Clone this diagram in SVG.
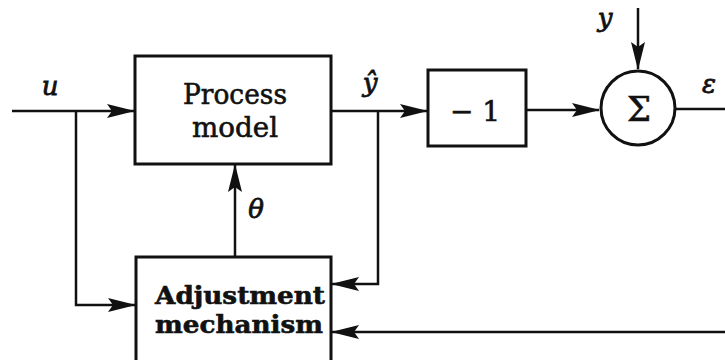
<svg xmlns="http://www.w3.org/2000/svg" width="725" height="360" viewBox="0 0 725 360">
<style>
.box{fill:#fff;stroke:#111;stroke-width:3}
.ln{fill:none;stroke:#111;stroke-width:2.5}
.lbl{font-family:"DejaVu Serif","Liberation Serif",serif;fill:#111;stroke:#111;stroke-width:0.6}
.it{font-family:"DejaVu Serif","Liberation Serif",serif;font-style:italic;fill:#111;stroke:#111;stroke-width:0.8}
</style>
<defs>
<marker id="ah" markerUnits="userSpaceOnUse" markerWidth="32" markerHeight="16" viewBox="0 -8 28 16" refX="27" refY="0" orient="auto">
<path d="M0,-7 L28,0 L0,7 L5,0 Z" fill="#111"/>
</marker>
</defs>
<rect width="725" height="360" fill="#fff"/>
<g id="connectors">
<path class="ln" d="M12,111 H134" marker-end="url(#ah)"/>
<path class="ln" d="M76,111 V305 H135" marker-end="url(#ah)"/>
<path class="ln" d="M331,111 H427" marker-end="url(#ah)"/>
<path class="ln" d="M378,111 V284 H332" marker-end="url(#ah)"/>
<path class="ln" d="M526,110 H599" marker-end="url(#ah)"/>
<path class="ln" d="M638,8 V69" marker-end="url(#ah)"/>
<path class="ln" d="M676,109 H725"/>
<path class="ln" d="M725,332 H332" marker-end="url(#ah)"/>
<path class="ln" d="M235,257 V165" marker-end="url(#ah)"/>
</g>
<g id="process-model">
<rect class="box" x="135" y="56" width="196" height="108"/>
<text class="lbl" x="235" y="104" font-size="28" text-anchor="middle" textLength="104" lengthAdjust="spacingAndGlyphs">Process</text>
<text class="lbl" x="235" y="137" font-size="28" text-anchor="middle" textLength="86" lengthAdjust="spacingAndGlyphs">model</text>
</g>
<g id="adjustment-mechanism">
<rect class="box" x="136" y="257" width="195" height="120"/>
<text class="lbl" x="240" y="304" font-size="25" font-weight="bold" text-anchor="middle" textLength="170" lengthAdjust="spacingAndGlyphs">Adjustment</text>
<text class="lbl" x="239" y="333" font-size="25" font-weight="bold" text-anchor="middle" textLength="168" lengthAdjust="spacingAndGlyphs">mechanism</text>
</g>
<g id="gain">
<rect class="box" x="428" y="70" width="98" height="76"/>
<text class="lbl" x="475" y="121" font-size="28" text-anchor="middle">− 1</text>
</g>
<g id="sum">
<circle class="box" cx="638" cy="108" r="37"/>
<text class="lbl" x="639" y="121" font-size="34" text-anchor="middle">Σ</text>
</g>
<g id="labels">
<text class="it" x="50" y="95" font-size="26" text-anchor="middle">u</text>
<text class="it" x="370" y="92" font-size="26" text-anchor="middle">ŷ</text>
<text class="it" x="605" y="27" font-size="26" text-anchor="middle">y</text>
<text class="it" x="709" y="93" font-size="26" text-anchor="middle">ε</text>
<text class="it" x="256" y="218" font-size="26" text-anchor="middle">θ</text>
</g>
</svg>
